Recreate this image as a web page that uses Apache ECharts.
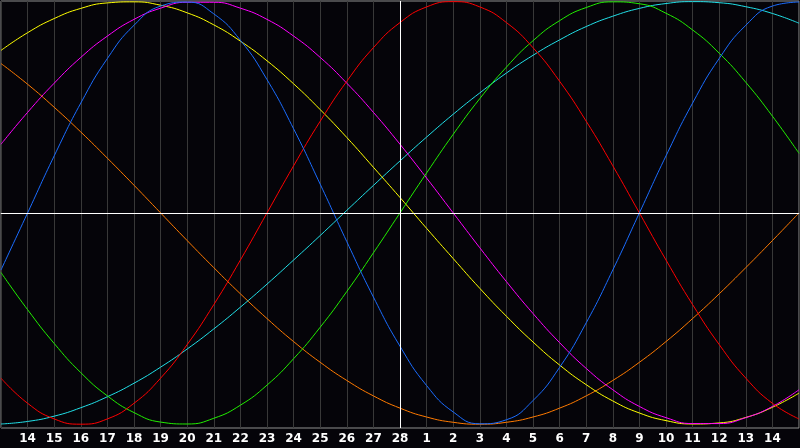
<!DOCTYPE html>
<html><head><meta charset="utf-8">
<script src="https://cdn.jsdelivr.net/npm/echarts@6/dist/echarts.min.js"></script>
<style>html,body{margin:0;padding:0;background:#050409;}#c{width:800px;height:448px;}</style>
</head><body><div id="c"></div>
<script>
const days = ['13','14','15','16','17','18','19','20','21','22','23','24','25','26','27','28',
  '1','2','3','4','5','6','7','8','9','10','11','12','13','14','15'];
const physical = [-0.270,0,0.270,0.520,0.731,0.888,0.979,0.998,0.942,0.817,0.631,0.398,0.136,-0.136,-0.398,-0.631,-0.817,-0.942,-0.998,-0.979,-0.888,-0.731,-0.520,-0.270,0,0.270,0.520,0.731,0.888,0.979,0.998];
const emotional = [-0.782,-0.901,-0.975,-1,-0.975,-0.901,-0.782,-0.623,-0.434,-0.223,0,0.223,0.434,0.623,0.782,0.901,0.975,1,0.975,0.901,0.782,0.623,0.434,0.223,0,-0.223,-0.434,-0.623,-0.782,-0.901,-0.975];
const intellectual = [-0.282,-0.458,-0.618,-0.756,-0.866,-0.945,-0.990,-0.999,-0.972,-0.910,-0.815,-0.690,-0.541,-0.372,-0.189,0,0.189,0.372,0.541,0.690,0.815,0.910,0.972,0.999,0.990,0.945,0.866,0.756,0.618,0.458,0.282];
const intuitive = [0.325,0.476,0.614,0.736,0.837,0.916,0.969,0.997,0.997,0.969,0.916,0.837,0.736,0.614,0.476,0.325,0.165,0,-0.165,-0.325,-0.476,-0.614,-0.736,-0.837,-0.916,-0.969,-0.997,-0.997,-0.969,-0.916,-0.837];
const aesthetic = [0.769,0.853,0.920,0.968,0.994,0.999,0.983,0.947,0.890,0.813,0.720,0.611,0.489,0.357,0.216,0.073,-0.073,-0.216,-0.357,-0.489,-0.611,-0.720,-0.813,-0.890,-0.947,-0.983,-0.999,-0.994,-0.968,-0.920,-0.853];
const awareness = [0.707,0.609,0.5,0.383,0.259,0.131,0,-0.131,-0.259,-0.383,-0.5,-0.609,-0.707,-0.793,-0.866,-0.924,-0.966,-0.991,-1,-0.991,-0.966,-0.924,-0.866,-0.793,-0.707,-0.609,-0.5,-0.383,-0.259,-0.131,0];
const spiritual = [-0.999,-0.987,-0.962,-0.922,-0.870,-0.806,-0.730,-0.644,-0.549,-0.446,-0.337,-0.223,-0.107,0.012,0.130,0.246,0.359,0.467,0.568,0.662,0.746,0.819,0.882,0.931,0.968,0.991,1.000,0.995,0.976,0.944,0.898];
const todayIndex = 15;

const chart = echarts.init(document.getElementById('c'));
function line(name, data, color, extra) {
  return Object.assign({
    name, type: 'line', data, smooth: true, symbol: 'none', silent: true,
    lineStyle: { color, width: 1 }, itemStyle: { color }
  }, extra || {});
}
chart.setOption({
  backgroundColor: '#050409',
  animation: false,
  grid: { left: 1, right: 1, top: 1, bottom: 20, show: true, borderColor: '#909090', borderWidth: 1, backgroundColor: 'transparent' },
  xAxis: {
    type: 'category', data: days, boundaryGap: false,
    axisLine: { show: true, lineStyle: { color: '#a8a8a8', width: 1 } },
    axisTick: { show: false },
    axisLabel: {
      interval: (i) => i > 0 && i < days.length - 1,
      color: '#ffffff', fontWeight: 'bold', fontSize: 12, fontFamily: 'DejaVu Sans', margin: 5
    },
    splitLine: { show: true, interval: 0, lineStyle: { color: '#383838', width: 1 } }
  },
  yAxis: {
    type: 'value', min: -1.018, max: 1.003,
    axisLine: { show: false }, axisTick: { show: false }, axisLabel: { show: false },
    splitLine: { show: false }
  },
  series: [
    line('awareness', awareness, '#ff7a00', {
      markLine: {
        silent: true, symbol: 'none', label: { show: false },
        lineStyle: { color: '#ffffff', width: 1, type: 'solid' },
        data: [{ yAxis: 0 }, { xAxis: todayIndex }]
      }
    }),
    line('spiritual', spiritual, '#22e0e8'),
    line('aesthetic', aesthetic, '#ffff00'),
    line('intuitive', intuitive, '#ff00ff'),
    line('intellectual', intellectual, '#22ee00'),
    line('emotional', emotional, '#ff0000'),
    line('physical', physical, '#1a6cff')
  ]
});
</script>
</body></html>
